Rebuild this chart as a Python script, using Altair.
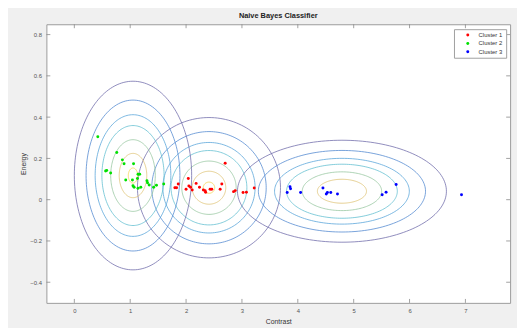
import altair as alt
import numpy as np
import pandas as pd

# ---------------- data ----------------
cluster_names = ["Cluster 1", "Cluster 2", "Cluster 3"]
cluster_colors = ["#ff0000", "#00e000", "#0000ff"]

c1_x = [1.80, 1.83, 1.86, 2.00, 2.04, 2.05, 2.08, 2.11, 2.18, 2.24, 2.31, 2.34,
        2.35, 2.43, 2.46, 2.61, 2.64, 2.70, 2.85, 2.88, 3.02, 3.08, 3.22]
c1_y = [0.058, 0.058, 0.076, 0.051, 0.103, 0.066, 0.060, 0.047, 0.079, 0.060, 0.047, 0.044,
        0.036, 0.051, 0.051, 0.051, 0.076, 0.177, 0.039, 0.044, 0.035, 0.036, 0.057]

c2_x = [0.42, 0.56, 0.58, 0.65, 0.76, 0.86, 0.89, 0.92, 1.04, 1.05, 1.06, 1.07, 1.13,
        1.14, 1.14, 1.17, 1.19, 1.30, 1.31, 1.34, 1.42, 1.47, 1.60]
c2_y = [0.305, 0.139, 0.142, 0.129, 0.229, 0.193, 0.174, 0.095, 0.095, 0.068, 0.174, 0.060, 0.103,
        0.123, 0.055, 0.123, 0.060, 0.092, 0.082, 0.071, 0.060, 0.070, 0.076]

c3_x = [3.81, 3.86, 3.87, 4.05, 4.45, 4.51, 4.53, 4.59, 4.71, 5.51, 5.58, 5.76, 6.93]
c3_y = [0.035, 0.063, 0.053, 0.035, 0.057, 0.028, 0.035, 0.035, 0.028, 0.024, 0.036, 0.074, 0.024]

# Gaussian contour model per cluster: centre and outer-contour semi-axes
ell_cx = [2.41, 1.05, 4.79]
ell_cy = [0.058, 0.117, 0.041]
ell_ax = [1.28, 1.05, 1.87]
ell_ay = [0.340, 0.457, 0.247]
ell_levels = [7, 7, 6]          # number of contour rings drawn for each cluster

ring_frac = [1.0, 0.80, 0.645, 0.53, 0.38, 0.235, 0.08]
ring_color = ["#6c68a8", "#4e86cf", "#53a2d8", "#5cbccf", "#93c49c", "#dcbf6c", "#f2cf3e"]

x_ticks = [0, 1, 2, 3, 4, 5, 6, 7]
y_ticks = [-0.4, -0.2, 0, 0.2, 0.4, 0.6, 0.8]
x_dom = [-0.5, 7.8]
y_dom = [-0.5, 0.85]

# ---------------- tables ----------------
pts = pd.concat([
    pd.DataFrame({"x": c1_x, "y": c1_y, "cluster": cluster_names[0]}),
    pd.DataFrame({"x": c2_x, "y": c2_y, "cluster": cluster_names[1]}),
    pd.DataFrame({"x": c3_x, "y": c3_y, "cluster": cluster_names[2]}),
], ignore_index=True)

t = np.linspace(0, 2 * np.pi, 161)
rows = []
for k in range(3):
    for j in range(ell_levels[k]):
        f = ring_frac[j]
        for i, tt in enumerate(t):
            rows.append({
                "ring": f"{k}-{j}",
                "i": i,
                "x": ell_cx[k] + f * ell_ax[k] * np.cos(tt),
                "y": ell_cy[k] + f * ell_ay[k] * np.sin(tt),
                "col": ring_color[j],
            })
rings = pd.DataFrame(rows)

W, H = 471, 283
FONT = "Liberation Sans"

xs = alt.Scale(domain=x_dom, nice=False, zero=False)
ys = alt.Scale(domain=y_dom, nice=False, zero=False)

x_axis = alt.Axis(values=x_ticks, ticks=False, domain=False, grid=False, labelFontSize=6,
                  labelColor="#555555", labelFont=FONT, labelPadding=5, title="Contrast",
                  titleFontSize=7, titleFontWeight="normal", titleColor="#333333",
                  titleFont=FONT, titlePadding=4, format="d")
y_axis = alt.Axis(values=y_ticks, ticks=False, domain=False, grid=False, labelFontSize=6,
                  labelColor="#555555", labelFont=FONT, labelPadding=5, title="Energy",
                  titleFontSize=7, titleFontWeight="normal", titleColor="#333333",
                  titleFont=FONT, titlePadding=3, format="~g")

ring_layer = alt.Chart(rings).mark_line(strokeWidth=0.9, opacity=0.85).encode(
    x=alt.X("x:Q", scale=xs, axis=x_axis),
    y=alt.Y("y:Q", scale=ys, axis=y_axis),
    detail="ring:N",
    order="i:Q",
    stroke=alt.Stroke("col:N", scale=None),
)

pt_layer = alt.Chart(pts).mark_circle(size=9, opacity=1).encode(
    x=alt.X("x:Q", scale=xs),
    y=alt.Y("y:Q", scale=ys),
    color=alt.Color("cluster:N",
                    scale=alt.Scale(domain=cluster_names, range=cluster_colors),
                    legend=alt.Legend(title=None, orient="none", legendX=414, legendY=5,
                                      fillColor="white", strokeColor="#a0a0a0", padding=3,
                                      labelFontSize=6, labelFont=FONT, labelColor="#333333",
                                      symbolType="circle", symbolSize=9, symbolOffset=8,
                                      labelOffset=8, rowPadding=2.5)),
)

xt = pd.DataFrame({"x": x_ticks})
yt = pd.DataFrame({"y": y_ticks})
tick_color = "#8a8a8a"
xt_bot = alt.Chart(xt).mark_rule(color=tick_color, strokeWidth=0.8).encode(
    x=alt.X("x:Q", scale=xs), y=alt.value(H), y2=alt.value(H - 4))
xt_top = alt.Chart(xt).mark_rule(color=tick_color, strokeWidth=0.8).encode(
    x=alt.X("x:Q", scale=xs), y=alt.value(0), y2=alt.value(4))
yt_left = alt.Chart(yt).mark_rule(color=tick_color, strokeWidth=0.8).encode(
    y=alt.Y("y:Q", scale=ys), x=alt.value(0), x2=alt.value(4))
yt_right = alt.Chart(yt).mark_rule(color=tick_color, strokeWidth=0.8).encode(
    y=alt.Y("y:Q", scale=ys), x=alt.value(W), x2=alt.value(W - 4))

chart = alt.layer(ring_layer, pt_layer, xt_bot, xt_top, yt_left, yt_right).properties(
    width=W, height=H,
    title=alt.TitleParams("Naive Bayes Classifier", fontSize=7.5, fontWeight="bold",
                          font=FONT, color="#222222", offset=4),
    padding={"left": 39, "top": 14, "right": 7, "bottom": 23},
    autosize="none",
    background="#f0f0f0",
).configure_view(stroke="#9a9a9a", strokeWidth=1, fill="white")

chart.save("out.html", embed_options={"renderer": "svg", "actions": False})
